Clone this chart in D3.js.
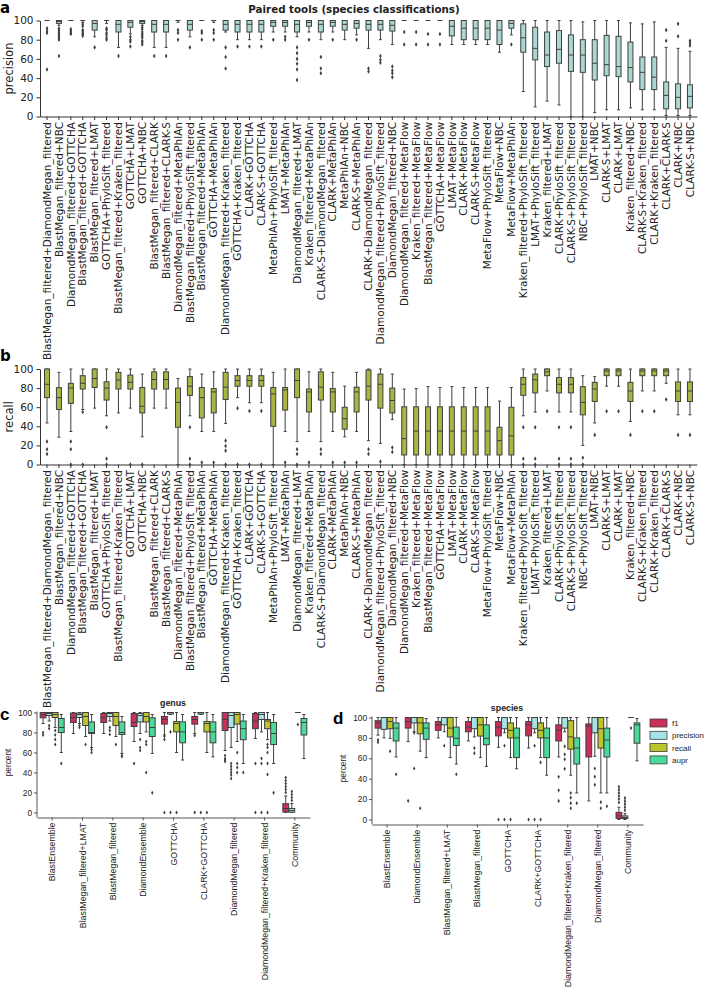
<!DOCTYPE html>
<html>
<head>
<meta charset="utf-8">
<script src="https://cdn.jsdelivr.net/npm/d3@7"></script>
<style>
  body { margin: 0; background: #fff; }
  svg { display: block; }
</style>
</head>
<body>
<script>
// ---- panels a / b : paired tools ----
const pairNames = [
  'BlastMegan_filtered+DiamondMegan_filtered', 'BlastMegan_filtered+NBC', 'DiamondMegan_filtered+GOTTCHA',
  'BlastMegan_filtered+GOTTCHA', 'BlastMegan_filtered+LMAT', 'GOTTCHA+PhyloSift_filtered',
  'BlastMegan_filtered+Kraken_filtered', 'GOTTCHA+LMAT', 'GOTTCHA+NBC', 'BlastMegan_filtered+CLARK',
  'BlastMegan_filtered+CLARK-S', 'DiamondMegan_filtered+MetaPhlAn', 'BlastMegan_filtered+PhyloSift_filtered',
  'BlastMegan_filtered+MetaPhlAn', 'GOTTCHA+MetaPhlAn', 'DiamondMegan_filtered+Kraken_filtered',
  'GOTTCHA+Kraken_filtered', 'CLARK+GOTTCHA', 'CLARK-S+GOTTCHA', 'MetaPhlAn+PhyloSift_filtered',
  'LMAT+MetaPhlAn', 'DiamondMegan_filtered+LMAT', 'Kraken_filtered+MetaPhlAn', 'CLARK-S+DiamondMegan_filtered',
  'CLARK+MetaPhlAn', 'MetaPhlAn+NBC', 'CLARK-S+MetaPhlAn', 'CLARK+DiamondMegan_filtered',
  'DiamondMegan_filtered+PhyloSift_filtered', 'DiamondMegan_filtered+NBC', 'DiamondMegan_filtered+MetaFlow',
  'Kraken_filtered+MetaFlow', 'BlastMegan_filtered+MetaFlow', 'GOTTCHA+MetaFlow', 'LMAT+MetaFlow',
  'CLARK+MetaFlow', 'CLARK-S+MetaFlow', 'MetaFlow+PhyloSift_filtered', 'MetaFlow+NBC', 'MetaFlow+MetaPhlAn',
  'Kraken_filtered+PhyloSift_filtered', 'LMAT+PhyloSift_filtered', 'Kraken_filtered+LMAT',
  'CLARK+PhyloSift_filtered', 'CLARK-S+PhyloSift_filtered', 'NBC+PhyloSift_filtered', 'LMAT+NBC',
  'CLARK-S+LMAT', 'CLARK+LMAT', 'Kraken_filtered+NBC', 'CLARK-S+Kraken_filtered', 'CLARK+Kraken_filtered',
  'CLARK+CLARK-S', 'CLARK+NBC', 'CLARK-S+NBC'
]

// [whisker low, q1, median, q3, whisker high]
const precStats = [
  [100,100,100,100,100], [95,97,99,100,100], [100,100,100,100,100], [98,100,100,100,100], [83,90,97,100,100],
  [97,100,100,100,100], [72,88,96,100,100], [86,93,98,100,100], [95,97,99,100,100], [72,88,96,100,100],
  [72,88,96,100,100], [98,100,100,100,100], [83,90,96,100,100], [100,100,100,100,100], [98,100,100,100,100],
  [88,90,96,100,100], [80,88,96,100,100], [80,88,96,100,100], [80,88,96,100,100], [88,94,98,100,100],
  [88,94,98,100,100], [83,88,96,100,100], [88,94,98,100,100], [80,88,96,100,100], [88,94,98,100,100],
  [80,90,96,100,100], [85,92,97,100,100], [71,90,96,100,100], [80,90,96,100,100], [75,89,95,100,100],
  [100,100,100,100,100], [100,100,100,100,100], [100,100,100,100,100], [100,100,100,100,100], [75,84,94,100,100],
  [75,80,92,100,100], [75,80,92,100,100], [75,80,92,100,100], [67,75,90,100,100], [85,92,97,100,100],
  [26,67,82,96.5,100], [10,59,71,93,100], [16,52,64,88,100], [12,55.5,70,89.5,100], [0,47,64,85,100],
  [0,46,64,80,98.6], [4,38,55.5,80,100], [7,42.5,54,84.5,100], [7,41.5,52,83.5,100], [9,36,51,77.5,97.5],
  [7,28,46,62,96.5], [7,28,41,62,98.6], [1,8,22,36,72], [1,8,20,34,71], [1,9,21,33,68]
]
const precOut = [
  [92,89,87,49], [92,90,88,86,84,82,80,63], [91,89,87,86], [96,94,90,89,87,86,84], [72],
  [92,90,87,85,82,80], [63], [83,80,78,73], [93,91,88,86,84,82,79,77,75], [63],
  [63], [90,87,80], [72], [89,87,80], [90,87,80],
  [72,62,50], [73], [73], [73], [80],
  [83,80], [72,66,60,55,49,38], [80], [62,50,45], [80],
  [], [80], [50,47], [63,59,56], [52,48,45,41],
  [88,75], [88,75], [86,75], [86,75], [],
  [], [], [], [], [75],
  [], [], [], [], [],
  [], [], [], [], [],
  [], [], [90,79], [96.5,83.5], [79,76.5,74]
]

const recStats = [
  [43.5,70,84,100,100], [28.6,57.6,70,80.5,96.5], [34.6,64,80,85,100], [57.6,79,85,93,100], [59,80.6,90,100,100],
  [51,67.5,80,86.6,100], [54,79,88.5,96.5,100], [59,79,86,93.6,100], [29,54,61,80.6,94.7], [59,79,89,97,100],
  [59,79,89,97,100], [0,39,65,80,90], [51,72.4,82,92,100], [34.6,48.8,70,80.6,94.7], [34.6,54,76,79.5,97],
  [43,68,81,96.5,100], [70,82,88,93,100], [64.7,82,88,93,100], [64.7,82,88,93,100], [0,40,74,80.6,96.5],
  [34.6,57,78,80.6,100], [24,70,88,100,100], [34.6,55,76,79,97], [24,67.5,81,97,100], [34.6,55,76,79.5,96.5],
  [29,37,48,60,82], [34.6,55,76,81,96.5], [25,67.5,82,99,100], [22,59,84,94.7,100], [47,54,67,80,94.7],
  [0,10,27,60.4,79], [0,10,35,60.4,79.5], [0,10,35,60.4,81.6], [0,10,35,60.4,80.6], [0,10,35,60.4,81.6],
  [0,10,35,60.4,80.6], [0,10,35,60.4,80.6], [0,10,35,60.4,80.6], [0,10,25,39,66.4], [0,10,30,60,80.6],
  [51,72.4,84,91,100], [54.8,75,88.7,94.7,100], [77,93,97,100,100], [55,75,84,91,100], [55,75,84,91,100],
  [20,52,65,81.5,93], [43.5,66,79,86,92], [82,93,98,100,100], [82,93,98,100,100], [45,66,77,86,100],
  [77,93,98,100,100], [77,93,98,100,100], [85,93,98,100,100], [52,66,77,86.5,100], [52,66,77,86.5,100]
]
const recOut = [
  [24,16,11], [], [24,16,0], [55,0], [],
  [39,6,0], [], [0], [0], [],
  [], [], [39,6,0], [2], [2],
  [25,19.4,14.5,0], [59,0], [56,0], [56,0], [],
  [2], [16,11,0], [2], [16,11], [2],
  [2], [2], [16,11], [3], [17.7,13],
  [], [], [], [], [],
  [], [], [], [], [],
  [39,6,0], [39,6,0], [55.7], [39,6,0], [39,6,0],
  [7,0], [31], [55.7], [55.7], [31],
  [55.7], [55.7], [68], [31], [31]
]

// ---- panels c / d : best tools vs community ----
const metrics = ['f1', 'precision', 'recall', 'aupr']
const metricColors = ['#c93059', '#a6e2e6', '#bdc52d', '#4bd99a']

const genusTools = ['BlastEnsemble', 'BlastMegan_filtered+LMAT', 'BlastMegan_filtered', 'DiamondEnsemble',
  'GOTTCHA', 'CLARK+GOTTCHA', 'DiamondMegan_filtered', 'DiamondMegan_filtered+Kraken_filtered', 'Community']
const genusF1 = [[89,94.7,97.8,100,100], [79,90,95,99.4,100], [79,90,94.7,99,100], [71,86,90,99,100],
  [77.5,88.4,93,96,100], [79,88.4,93,96,100], [62,82,93,100,100], [74,83.8,91.5,99,100], [0,0.5,4,8.8,16.5]]
const genusF1Out = [[80,77.5], [], [], [49], [76,73,0], [77,0], [57,54,52.5,51], [49,0], [20,23,26,29,32,35]]
const genusPrec = [[91.5,97,99,100,100], [89,95,98,99.4,100], [91.5,96,99,100,100], [79,90.6,97,99,100],
  [98,98.5,100,100,100], [98,98.5,100,100,100], [65,85,97,100,100], [80.6,93,98,100,100], [0,0.3,2,4,9]]
const genusPrecOut = [[87,84], [87,85], [85,82,78], [73,65,62], [80.6,0], [0], [49,46,43,40,37.5,34],
  [54,49,0], [12,15,18,21]]
const genusRec = [[85,95,98,100,100], [76,87,96,100,100], [76,87,96,100,100], [80.6,90.6,96,100,100],
  [60,80.6,89,91,100], [60,80.6,89,91,100], [71,88.4,98,100,100], [72.8,83.8,91.5,93,100], [100,100,100,100,100]]
const genusRecOut = [[82,77.5,73,68], [68], [68], [71,68,40], [0], [0], [60,49,45,40], [68,65,60,49,38,0], [88]]
const genusAupr = [[60,80,85,94,98], [65,79,80,90.6,98], [59,78,80,90.6,96], [59,76,85,94.7,98],
  [52.5,69.7,80.6,90.6,98], [55.6,69.7,80.6,90.6,98], [49,72.8,83.8,91.5,98], [49,68,79,90,98], [54,77.5,90,94,98]]
const genusAuprOut = [[49], [63,60], [57,56], [19.7], [], [], [40], [19.7], []]

const speciesTools = ['BlastEnsemble', 'DiamondEnsemble', 'BlastMegan_filtered+LMAT', 'BlastMegan_filtered',
  'GOTTCHA', 'CLARK+GOTTCHA', 'DiamondMegan_filtered+Kraken_filtered', 'DiamondMegan_filtered', 'Community']
const speciesF1 = [[82.7,89.6,94.7,96.9,100], [76.4,89.6,96,100,100], [80,87.4,92.8,96,100], [77,86,90.6,96,100],
  [70.8,82,90.6,96,100], [70,82,92.8,96,100], [61.3,77,87.4,92.8,100], [18.2,61.3,91.5,93.7,100], [0,1,3.5,7,12]]
const speciesF1Out = [[78,75.8], [18.2], [], [], [0], [0], [41.8,28.6,18.2], [], [16.7,20,23,26,29,32]]
const speciesPrec = [[80,88.4,100,100,100], [86,94.7,100,100,100], [86,92.8,100,100,100], [81,89,100,100,100],
  [85,89,100,100,100], [85,89,100,100,100], [86,89.6,100,100,100], [62,85,100,100,100], [0,1,2,3.5,5.7]]
const speciesPrecOut = [[], [85,50], [72.3], [70,65], [72.3,0], [72.3,0], [71.7,63.8,59,49.7], [50,42,34],
  [9,12,15,18,21]]
const speciesRec = [[79.6,89,96,100,100], [67,84,94.7,100,100], [60.7,81,89.6,100,100], [60.7,81.8,92.8,100,100],
  [60.7,80,87.4,94.7,100], [60.7,80,87.4,94.7,100], [43.4,69,81,96.9,100], [26,70,89,100,100], [100,100,100,100,100]]
const speciesRecOut = [[67], [11], [], [], [0], [56,0], [26,21.4,16,11], [17,11], [89.6]]
const speciesAupr = [[61.3,77,89.6,94.7,100], [60.7,78.6,89.6,94.7,99], [54.4,72.6,79.6,90.6,100],
  [52,73.3,79.6,92.8,100], [49.7,60.7,80,89.6,100], [43.4,60.7,80,89.6,100], [26,54.4,70,80,100],
  [26,61.3,78,89.6,100], [57.5,74.8,92.8,94.7,99]]
const speciesAuprOut = [[44.3], [], [44.3], [], [], [], [16], [13], []]

const W = 707, H = 987
const svg = d3.select('body').append('svg').attr('width', W).attr('height', H)
const ink = '#3f3f3f'
const diamond = d3.symbol().type(d3.symbolDiamond)

// one box + whiskers + fliers
function drawBox(g, cx, w, st, outs, y, fill, capW, msize) {
  const [lo, q1, med, q3, hi] = st
  g.append('line').attr('x1', cx).attr('x2', cx).attr('y1', y(lo)).attr('y2', y(q1))
    .attr('stroke', ink).attr('stroke-width', 1)
  g.append('line').attr('x1', cx).attr('x2', cx).attr('y1', y(q3)).attr('y2', y(hi))
    .attr('stroke', ink).attr('stroke-width', 1)
  ;[lo, hi].forEach(v => g.append('line')
    .attr('x1', cx - capW / 2).attr('x2', cx + capW / 2).attr('y1', y(v)).attr('y2', y(v))
    .attr('stroke', ink).attr('stroke-width', 1))
  g.append('rect').attr('x', cx - w / 2).attr('y', y(q3)).attr('width', w)
    .attr('height', Math.max(0, y(q1) - y(q3)))
    .attr('fill', fill).attr('stroke', ink).attr('stroke-width', 1)
  g.append('line').attr('x1', cx - w / 2).attr('x2', cx + w / 2).attr('y1', y(med)).attr('y2', y(med))
    .attr('stroke', ink).attr('stroke-width', 1)
  g.selectAll(null).data(outs).enter().append('path')
    .attr('d', diamond.size(msize)())
    .attr('transform', d => `translate(${cx},${y(d)})`)
    .attr('fill', ink)
}

// ---------- panels a and b ----------
function pairPanel(top, bottom, stats, outs, fill, ylabel, letter, letterY) {
  const x = d3.scaleBand().domain(pairNames).range([40, 697]).paddingOuter(0.09)
  const y = d3.scaleLinear().domain([0, 100]).range([bottom, top])
  const g = svg.append('g')
  const font = 'DejaVu Sans'

  const ya = g.append('g').attr('transform', 'translate(40,0)')
    .call(d3.axisLeft(y).tickValues([0, 20, 40, 60, 80, 100]).tickSize(3.5).tickSizeOuter(0).tickPadding(3))
  ya.selectAll('text').attr('font-family', font).attr('font-size', 10.5).attr('fill', '#222')
  ya.selectAll('line,path').attr('stroke', '#333')

  const xa = g.append('g').attr('transform', `translate(0,${bottom})`)
    .call(d3.axisBottom(x).tickSize(3.5).tickSizeOuter(0))
  xa.selectAll('line,path').attr('stroke', '#333')
  xa.selectAll('text').attr('font-family', font).attr('font-size', 10.5).attr('fill', '#222')
    .attr('transform', 'rotate(-90)').attr('text-anchor', 'end')
    .attr('x', -5.5).attr('y', 0).attr('dy', '0.35em')

  g.append('text').attr('transform', `translate(13,${(top + bottom) / 2}) rotate(-90)`)
    .attr('text-anchor', 'middle').attr('font-family', font).attr('font-size', 11.5).attr('fill', '#222')
    .text(ylabel)
  g.append('text').attr('x', 0).attr('y', letterY).attr('font-family', font)
    .attr('font-weight', 'bold').attr('font-size', 15).text(letter)

  const bw = x.bandwidth()
  pairNames.forEach((n, i) => {
    drawBox(g, x(n) + bw / 2, bw * 0.42, stats[i], outs[i], y, fill, bw * 0.25, 6)
  })
}

svg.append('text').attr('x', 354).attr('y', 13).attr('text-anchor', 'middle')
  .attr('font-family', 'DejaVu Sans').attr('font-weight', 'bold').attr('font-size', 10.3)
  .attr('fill', '#222').text('Paired tools (species classifications)')

pairPanel(20.5, 116.5, precStats, precOut, '#aad7d2', 'precision', 'a', 13)
pairPanel(369, 464.5, recStats, recOut, '#a9b443', 'recall', 'b', 361)

// ---------- panels c and d ----------
function metricPanel(x0, x1, top, bottom, tools, series, outsSeries, title, titleX, titleY, letter, lx, ly, fs) {
  const font = 'Liberation Sans'
  const x = d3.scaleBand().domain(tools).range([x0, x1])
  const y = d3.scaleLinear().domain([0, 100]).range([bottom, top])
  const g = svg.append('g')
  const axisY = bottom + 5

  const ya = g.append('g').attr('transform', `translate(${x0},0)`)
    .call(d3.axisLeft(y).tickValues([0, 20, 40, 60, 80, 100]).tickSize(3).tickSizeOuter(0).tickPadding(2))
  ya.select('.domain').attr('d', `M0,${axisY}V${top - 1}`)
  ya.selectAll('text').attr('font-family', font).attr('font-size', 8.3).attr('fill', '#222')
  ya.selectAll('line,path').attr('stroke', '#555')

  const xa = g.append('g').attr('transform', `translate(0,${axisY})`)
    .call(d3.axisBottom(x).tickSize(3).tickSizeOuter(0))
  xa.selectAll('line,path').attr('stroke', '#555')
  xa.selectAll('text').attr('font-family', font).attr('font-size', fs).attr('fill', '#222')
    .attr('transform', 'rotate(-90)').attr('text-anchor', 'end')
    .attr('x', -5).attr('y', 0).attr('dy', '0.35em')

  g.append('text').attr('transform', `translate(${x0 - 26},${(top + bottom) / 2}) rotate(-90)`)
    .attr('text-anchor', 'middle').attr('font-family', font).attr('font-size', 8.3).attr('fill', '#222')
    .text('percent')
  g.append('text').attr('x', titleX).attr('y', titleY).attr('text-anchor', 'middle')
    .attr('font-family', font).attr('font-weight', 'bold').attr('font-size', 8.8).attr('fill', '#222')
    .text(title)
  g.append('text').attr('x', lx).attr('y', ly).attr('font-family', font)
    .attr('font-weight', 'bold').attr('font-size', 17).text(letter)

  const bw = x.bandwidth()
  const slot = bw * 0.8 / metrics.length
  tools.forEach((t, i) => {
    metrics.forEach((m, j) => {
      const cx = x(t) + bw * 0.1 + slot * (j + 0.5)
      drawBox(g, cx, slot * 0.96, series[j][i], outsSeries[j][i], y, metricColors[j], slot * 0.5, 5)
    })
  })
}

metricPanel(37, 310, 712.5, 812.5, genusTools,
  [genusF1, genusPrec, genusRec, genusAupr], [genusF1Out, genusPrecOut, genusRecOut, genusAuprOut],
  'genus', 173, 706, 'c', 0, 720, 8.8)
metricPanel(372, 643, 717.5, 819.5, speciesTools,
  [speciesF1, speciesPrec, speciesRec, speciesAupr], [speciesF1Out, speciesPrecOut, speciesRecOut, speciesAuprOut],
  'species', 507, 711, 'd', 333, 724, 8.8)

// legend for d
const leg = svg.append('g').attr('transform', 'translate(650,719)')
metrics.forEach((m, i) => {
  leg.append('rect').attr('x', 0).attr('y', i * 12.3).attr('width', 17).attr('height', 8)
    .attr('fill', metricColors[i]).attr('stroke', ink).attr('stroke-width', 0.8)
  leg.append('text').attr('x', 22).attr('y', i * 12.3 + 7).attr('font-family', 'Liberation Sans')
    .attr('font-size', 8).attr('fill', '#222').text(m)
})
</script>
</body>
</html>
